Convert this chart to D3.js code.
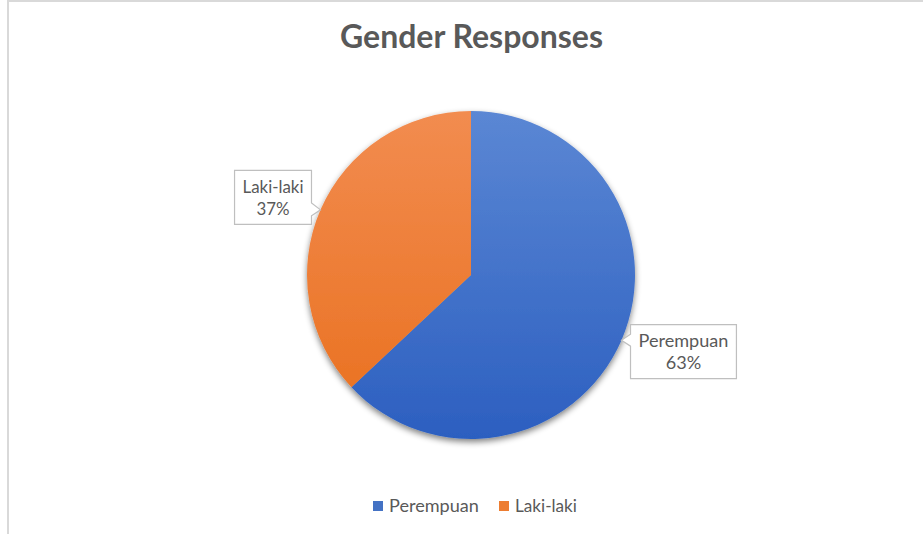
<!DOCTYPE html>
<html>
<head>
<meta charset="utf-8">
<script src="https://cdn.jsdelivr.net/npm/d3@7"></script>
<style>
  html, body { margin: 0; padding: 0; background: #fff; }
  svg { display: block; }
</style>
</head>
<body>
<svg id="chart" width="923" height="535"></svg>
<script>
const title = "Gender Responses";
const categories = ["Perempuan", "Laki-laki"];
const values = [63, 37];
const colorsTop = ["#5b87d4", "#f28c50"];
const colorsBottom = ["#2c5fc0", "#e96f1d"];
const legendColors = ["#4472c4", "#ed7d31"];

const W = 923, H = 535;
const FONT = "Lato, 'Open Sans', sans-serif";
const svg = d3.select("#chart");

// chart border (left & top only visible)
svg.append("line").attr("x1", 8).attr("y1", 0).attr("x2", 8).attr("y2", 534)
  .attr("stroke", "#d9d9d9").attr("stroke-width", 2);
svg.append("line").attr("x1", 7).attr("y1", 1).attr("x2", W).attr("y2", 1)
  .attr("stroke", "#d9d9d9").attr("stroke-width", 2);

function fitText(sel, targetW) {
  const fs = parseFloat(sel.attr("font-size"));
  const w = sel.node().getComputedTextLength();
  sel.attr("font-size", fs * targetW / w);
}

// title
const t = svg.append("text").attr("x", 471.5).attr("y", 48)
  .attr("text-anchor", "middle").attr("font-family", FONT)
  .attr("font-weight", "bold").attr("font-size", 28).attr("fill", "#595959")
  .text(title);
fitText(t, 263);

const cx = 471, cy = 275, r = 164;
const defs = svg.append("defs");
categories.forEach((c, i) => {
  const g = defs.append("linearGradient").attr("id", "grad" + i)
    .attr("gradientUnits", "userSpaceOnUse")
    .attr("x1", 0).attr("y1", -r).attr("x2", 0).attr("y2", r);
  g.append("stop").attr("offset", "0%").attr("stop-color", colorsTop[i]);
  g.append("stop").attr("offset", "100%").attr("stop-color", colorsBottom[i]);
});
const f = defs.append("filter").attr("id", "shadow")
  .attr("x", "-20%").attr("y", "-20%").attr("width", "140%").attr("height", "140%");
f.append("feGaussianBlur").attr("in", "SourceAlpha").attr("stdDeviation", 3).attr("result", "b");
f.append("feOffset").attr("in", "b").attr("dx", 0).attr("dy", 3).attr("result", "o");
f.append("feComponentTransfer").attr("in", "o").attr("result", "s")
  .append("feFuncA").attr("type", "linear").attr("slope", 0.5);
const m = f.append("feMerge");
m.append("feMergeNode").attr("in", "s");
m.append("feMergeNode").attr("in", "SourceGraphic");

const pie = d3.pie().sort(null).value(d => d)(values);
const arc = d3.arc().innerRadius(0).outerRadius(r);

const pg = svg.append("g").attr("transform", `translate(${cx},${cy})`);
pg.append("g").attr("filter", "url(#shadow)")
  .selectAll("path").data(pie).join("path")
  .attr("d", arc)
  .attr("fill", (d, i) => `url(#grad${i})`);

// callout labels
const total = d3.sum(values);
pie.forEach((d, i) => {
  const a = (d.startAngle + d.endAngle) / 2;
  const tipX = cx + r * Math.sin(a), tipY = cy - r * Math.cos(a);
  const right = Math.sin(a) > 0;
  const pct = Math.round(values[i] / total * 100) + "%";
  const g = svg.append("g");
  const path = g.append("path");
  const t1 = g.append("text").attr("text-anchor", "middle").attr("font-family", FONT)
    .attr("font-size", 16).attr("fill", "#595959").text(categories[i]);
  const t2 = g.append("text").attr("text-anchor", "middle").attr("font-family", FONT)
    .attr("font-size", 16).attr("fill", "#595959").text(pct);
  fitText(t1, right ? 90 : 61);
  const fs = parseFloat(t1.attr("font-size"));
  t2.attr("font-size", fs);
  const tw = t1.node().getComputedTextLength();
  const bw = tw + 16, bh = 54;
  const gap = 9;
  const boxCY = tipY + (right ? 11.5 : -12.5);
  const bx = right ? tipX + gap : tipX - gap - bw;
  const by = boxCY - bh / 2;
  const midX = bx + bw / 2;
  t1.attr("x", midX).attr("y", by + 22.5);
  t2.attr("x", midX).attr("y", by + 44.5);
  let p;
  if (right) {
    p = `M${bx},${by} H${bx + bw} V${by + bh} H${bx} V${tipY + 6} L${tipX},${tipY} L${bx},${tipY - 6} Z`;
  } else {
    p = `M${bx},${by} H${bx + bw} V${tipY - 7} L${tipX},${tipY} L${bx + bw},${tipY + 6} V${by + bh} H${bx} Z`;
  }
  path.attr("d", p).attr("fill", "#fff").attr("stroke", "#bfbfbf").attr("stroke-width", 1.2);
});

// legend
const lg = svg.append("g");
let lx = 373;
categories.forEach((c, i) => {
  lg.append("rect").attr("x", lx).attr("y", 501).attr("width", 10).attr("height", 10)
    .attr("fill", legendColors[i]);
  const tt = lg.append("text").attr("x", lx + 16).attr("y", 512)
    .attr("font-family", FONT).attr("font-size", 16).attr("fill", "#595959").text(c);
  fitText(tt, i === 0 ? 90 : 62);
  lx = 499;
});
</script>
</body>
</html>
